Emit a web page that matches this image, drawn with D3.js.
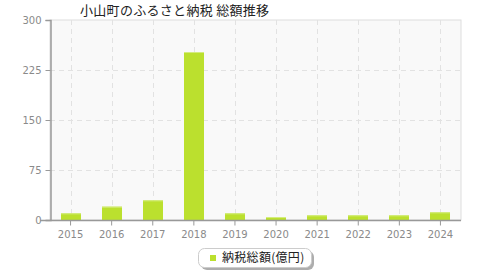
<!DOCTYPE html>
<html><head><meta charset="utf-8">
<script src="https://cdn.jsdelivr.net/npm/d3@7"></script>
<style>body{margin:0;background:#fff;}svg{display:block;font-family:"Noto Sans CJK JP","DejaVu Sans",sans-serif;}</style>
</head><body><svg id="c" width="480" height="280"></svg>
<script>
const title = "小山町のふるさと納税 総額推移";
const years = ["2015","2016","2017","2018","2019","2020","2021","2022","2023","2024"];
const values = [10, 20, 29.5, 252, 10, 4.5, 7, 7, 7, 11.5];
const yTicks = [0, 75, 150, 225, 300];
const seriesName = "納税総額(億円)";

const svg = d3.select("#c");
const m = {l:50, t:20, r:461, b:220};
const x = d3.scaleBand().domain(years).range([m.l, m.r]).paddingInner(0.5).paddingOuter(0.25);
const y = d3.scaleLinear().domain([0,300]).range([m.b, m.t]);

svg.append("rect").attr("x", m.l).attr("y", m.t).attr("width", m.r-m.l).attr("height", m.b-m.t)
  .attr("fill", "#f9f9f9").attr("stroke", "#dddddd");

// grid
svg.append("g").selectAll("line").data(yTicks.filter(d=>d>0 && d<300)).join("line")
  .attr("x1", m.l).attr("x2", m.r).attr("y1", d=>Math.round(y(d))+0.5).attr("y2", d=>Math.round(y(d))+0.5)
  .attr("stroke", "#e2e2e2").attr("stroke-dasharray", "5,4");
svg.append("g").selectAll("line").data(years).join("line")
  .attr("x1", d=>Math.round(x(d)+x.bandwidth()/2)+0.5).attr("x2", d=>Math.round(x(d)+x.bandwidth()/2)+0.5)
  .attr("y1", m.t).attr("y2", m.b)
  .attr("stroke", "#e2e2e2").attr("stroke-dasharray", "5,4");

// bars
const bw = 20;
const bars = svg.append("g");
years.forEach((yr,i)=>{
  const cx = x(yr)+x.bandwidth()/2;
  bars.append("rect").attr("x", Math.round(cx - bw/2)).attr("y", y(values[i])).attr("width", bw)
    .attr("height", y(0)-y(values[i])).attr("fill", "#bbe02e");
  bars.append("rect").attr("x", Math.round(cx - bw/2)).attr("y", y(values[i])).attr("width", bw)
    .attr("height", 1).attr("fill", "#d4ec7e");
});

// axes
const yAxis = d3.axisLeft(y).tickValues(yTicks).tickSize(5).tickPadding(4);
const gy = svg.append("g").attr("transform", `translate(${m.l+0.5},0)`).call(yAxis);
const xAxis = d3.axisBottom(x).tickSize(5).tickPadding(5);
const gx = svg.append("g").attr("transform", `translate(0,${m.b+0.5})`).call(xAxis);
[gy,gx].forEach(g=>{
  g.select(".domain").attr("stroke","#999").attr("stroke-width",1.5);
  g.selectAll(".tick line").attr("stroke","#999");
  g.selectAll("text").attr("fill","#8a8a8a").style("font-size","10px").style("font-family","'DejaVu Sans',sans-serif");
});
gx.select(".domain").attr("d", `M${m.l-10},0H${m.r}`);

svg.append("text").attr("x", 80).attr("y", 15).text(title)
  .style("font-size","13px").style("letter-spacing","0.3px").attr("fill","#222");

// legend
const lg = svg.append("g");
lg.append("rect").attr("x", 201).attr("y", 251).attr("width", 113).attr("height", 19).attr("rx", 6)
  .attr("fill", "#777").attr("opacity", 0.6);
lg.append("rect").attr("x", 198.5).attr("y", 248.5).attr("width", 113).attr("height", 19).attr("rx", 6)
  .attr("fill", "#fff").attr("stroke", "#ccc");
lg.append("rect").attr("x", 210).attr("y", 255).attr("width", 6).attr("height", 6).attr("fill", "#bbe02e");
lg.append("text").attr("x", 222).attr("y", 262).text(seriesName).style("font-size","12px").style("letter-spacing","0.3px").attr("fill","#222");
</script></body></html>
